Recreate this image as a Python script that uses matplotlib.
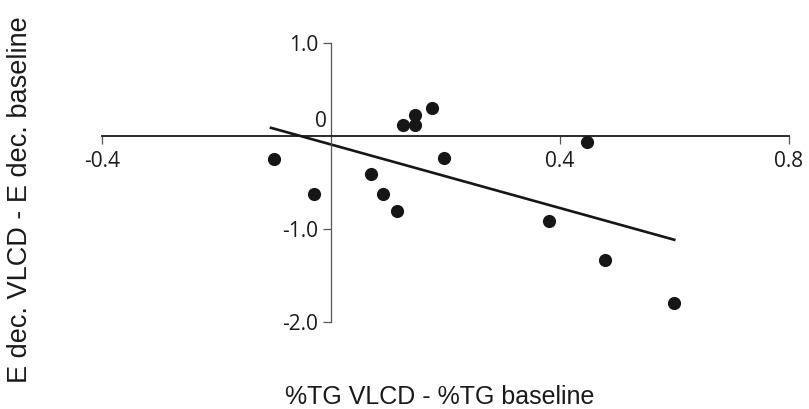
import numpy as np
import matplotlib.pyplot as plt

# data
tg_diff = [-0.099, -0.030, 0.069, 0.091, 0.116, 0.126, 0.147, 0.147,
           0.176, 0.198, 0.448, 0.381, 0.478, 0.599]
edec_diff = [-0.25, -0.62, -0.41, -0.62, -0.81, 0.12, 0.12, 0.23,
             0.30, -0.23, -0.065, -0.91, -1.33, -1.80]
fit_x = [-0.105, 0.600]
fit_y = [0.09, -1.115]

xticks = [-0.4, 0.4, 0.8]
xtick_labels = ['-0.4', '0.4', '0.8']
yticks = [1.0, -1.0, -2.0]
ytick_labels = ['1.0', '-1.0', '-2.0']

W, H = 809, 409
fig = plt.figure(figsize=(W / 100, H / 100), dpi=100)
ax = fig.add_axes([102.3 / W, 87 / H, (788.7 - 102.3) / W, (365.7 - 87) / H])
ax.set_xlim(-0.4, 0.8)
ax.set_ylim(-2.0, 1.0)

ax.scatter(tg_diff, edec_diff, s=90, color='#161616', zorder=3, clip_on=False, linewidths=0)
ax.plot(fit_x, fit_y, color='#161616', lw=1.9, zorder=2)

# axes crossing at the origin
for s in ['top', 'right']:
    ax.spines[s].set_visible(False)
ax.spines['left'].set_position(('data', 0))
ax.spines['bottom'].set_position(('data', 0))
ax.spines['bottom'].set_linewidth(1.3)
ax.spines['bottom'].set_color('#1a1a1a')
ax.spines['left'].set_linewidth(0.9)
ax.spines['left'].set_color('#555555')

tickfont = 'Open Sans'
txt = '#1a1a1a'
ax.set_xticks(xticks)
ax.set_xticklabels(xtick_labels, fontfamily=tickfont, fontsize=15, color=txt)
ax.set_yticks(yticks)
ax.set_yticklabels(ytick_labels, fontfamily=tickfont, fontsize=15, color=txt)
ax.tick_params(axis='x', direction='out', length=6, width=0.9, color='#555555', pad=5)
ax.tick_params(axis='y', direction='out', length=5.5, width=0.9, color='#555555', pad=4)

ax.annotate('0', xy=(0, 0), xytext=(-3, 3), textcoords='offset points',
            ha='right', va='bottom', fontfamily=tickfont, fontsize=15, color=txt)

fig.text(440 / W, 1 - 397 / H, '%TG VLCD - %TG baseline', ha='center', va='center',
         fontfamily='Liberation Sans', fontsize=18, color=txt)
fig.text(20 / W, 1 - 200 / H, 'E dec. VLCD - E dec. baseline', ha='center', va='center',
         rotation=90, fontfamily='Liberation Sans', fontsize=19.5, color=txt)

fig.savefig('out.png', dpi=100)
